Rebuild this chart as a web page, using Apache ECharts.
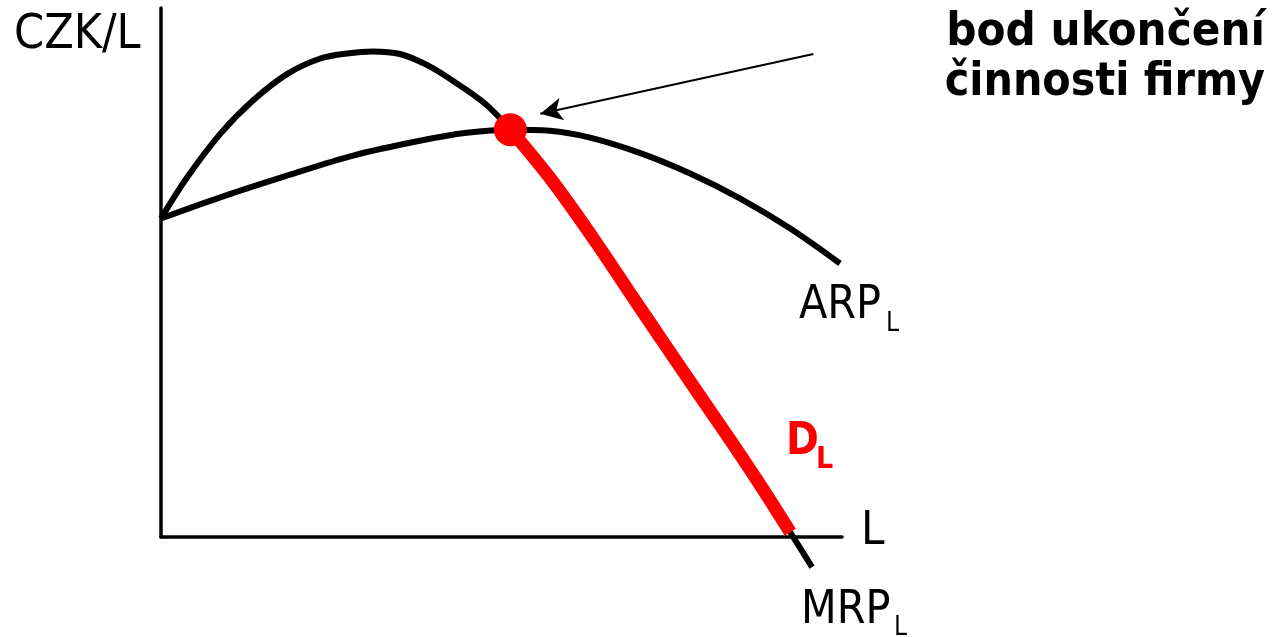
<!DOCTYPE html>
<html>
<head>
<meta charset="utf-8">
<script src="https://cdn.jsdelivr.net/npm/echarts@6/dist/echarts.min.js"></script>
<style>
    html, body { margin: 0; padding: 0; background: #fff; }
    #chart { width: 1276px; height: 637px; }
</style>
</head>
<body>
<div id="chart"></div>
<script>
// MRP_L krivka (L, CZK/L)
var mrpL = [0, 3.8, 8.7, 13.5, 18.5, 23.3, 27.3, 31.1, 35.1, 39.1, 42.9, 47.6, 51.3, 57.1, 63.4, 69.3, 74.3, 78.7, 83.6, 88.0, 92.4, 95.6];
var mrpV = [60.2, 67.9, 76.2, 82.5, 87.5, 90.4, 91.4, 91.8, 91.3, 89.2, 86.2, 81.9, 77.0, 67.9, 56.6, 45.3, 35.8, 27.5, 18.3, 9.8, 0.9, -5.7];

// ARP_L krivka
var arpL = [0, 8.7, 18.5, 28.2, 38.0, 44.9, 51.3, 57.1, 63.0, 70.3, 77.7, 85.0, 92.4, 99.7];
var arpV = [60.2, 64.2, 68.3, 72.1, 74.9, 76.4, 77.0, 76.8, 75.5, 72.6, 68.7, 64.0, 58.3, 51.7];

// D_L = cast MRP od bodu ukonceni po osu L
var demandFrom = 12;
var demandTo = 20;

// bod ukonceni cinnosti firmy
var shutdownPoint = [51.3, 77.0];
// sipka od popisku k bodu
var arrowFrom = [95.8, 91.3];
var arrowTo = [55.7, 80.0];

function toPairs(xs, ys) {
    var out = [];
    for (var i = 0; i < xs.length; i++) {
        out.push([xs[i], ys[i]]);
    }
    return out;
}

var font = '"DejaVu Sans Condensed", "DejaVu Sans", sans-serif';

function label(left, top, text, size, color, bold) {
    return {
        type: 'text',
        left: left,
        top: top,
        style: {
            text: text,
            font: (bold ? 'bold ' : '') + size + 'px ' + font,
            fill: color
        }
    };
}

var myChart = echarts.init(document.getElementById('chart'));

var option = {
    animation: false,
    backgroundColor: '#fff',
    grid: {
        left: 161,
        right: 434,
        top: 8,
        bottom: 100
    },
    xAxis: {
        type: 'value',
        min: 0,
        max: 100,
        axisLine: { onZero: false, lineStyle: { color: '#000', width: 3.5 } },
        axisTick: { show: false },
        axisLabel: { show: false },
        splitLine: { show: false }
    },
    yAxis: {
        type: 'value',
        min: 0,
        max: 100,
        axisLine: { show: true, onZero: false, lineStyle: { color: '#000', width: 3.5 } },
        axisTick: { show: false },
        axisLabel: { show: false },
        splitLine: { show: false }
    },
    series: [
        {
            name: 'ARP',
            type: 'line',
            data: toPairs(arpL, arpV),
            smooth: 0.35,
            symbol: 'none',
            clip: false,
            lineStyle: { color: '#000', width: 6 }
        },
        {
            name: 'MRP',
            type: 'line',
            data: toPairs(mrpL, mrpV),
            smooth: 0.35,
            symbol: 'none',
            clip: false,
            lineStyle: { color: '#000', width: 6 },
            markLine: {
                silent: true,
                symbol: ['none', 'arrow'],
                symbolSize: [17, 22],
                label: { show: false },
                lineStyle: { color: '#000', width: 2, type: 'solid' },
                data: [[{ coord: arrowFrom }, { coord: arrowTo }]]
            }
        },
        {
            name: 'D',
            type: 'line',
            data: toPairs(mrpL.slice(demandFrom, demandTo + 1), mrpV.slice(demandFrom, demandTo + 1)),
            smooth: 0.35,
            symbol: 'none',
            clip: false,
            lineStyle: { color: '#ff0000', width: 13 }
        },
        {
            name: 'bod',
            type: 'scatter',
            data: [shutdownPoint],
            symbolSize: 33,
            itemStyle: { color: '#ff0000', opacity: 1 },
            z: 5
        }
    ],
    graphic: [
        label(14, 12, 'CZK/L', 48, '#000'),
        label(861, 508, 'L', 47, '#000'),
        label(799, 283, 'ARP', 46, '#000'),
        label(886, 311, 'L', 26, '#000'),
        label(801, 588, 'MRP', 46, '#000'),
        label(894, 615, 'L', 26, '#000'),
        label(786, 421, 'D', 44, '#ff0000', true),
        label(816, 445, 'L', 30, '#ff0000', true),
        {
            type: 'text', right: 11, top: 9,
            style: { text: 'bod ukončení', font: 'bold 47px ' + font, fill: '#000', align: 'right' }
        },
        {
            type: 'text', right: 11, top: 60,
            style: { text: 'činnosti firmy', font: 'bold 46px ' + font, fill: '#000', align: 'right' }
        }
    ]
};

myChart.setOption(option);
</script>
</body>
</html>
